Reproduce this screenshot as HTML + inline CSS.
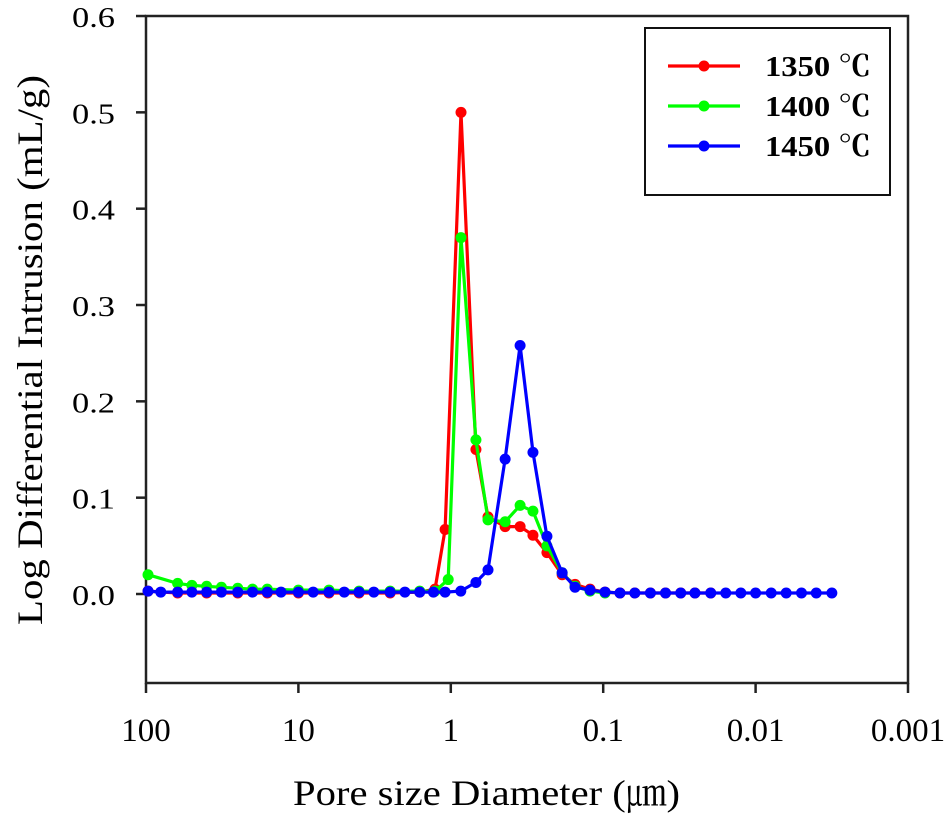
<!DOCTYPE html>
<html><head><meta charset="utf-8"><style>
body{margin:0;background:#fff;}
svg{display:block;font-family:"Liberation Serif","Noto Serif CJK SC",serif;}
</style></head><body>
<svg id="chart" width="947" height="814">
<g id="axes"></g><g id="series"></g><g id="legend"></g>
</svg>
<script>
const xTicks=[100,10,1,0.1,0.01,0.001];
const xTickLabels=["100","10","1","0.1","0.01","0.001"];
const yTicks=[0,0.1,0.2,0.3,0.4,0.5,0.6];
const yTickLabels=["0.0","0.1","0.2","0.3","0.4","0.5","0.6"];
const seriesNames=["1350 ℃","1400 ℃","1450 ℃"];
const seriesColors=["#ff0000","#00ff00","#0000ff"];
const d1350=[97,62,40,25,16,10,6.3,4,2.5,1.6,1.27,1.09,0.857,0.684,0.57,0.44,0.351,0.289,0.234,0.186,0.153,0.122,0.0973,0.0776,0.062,0.049,0.039,0.031,0.025,0.0197];
const v1350=[0.003,0.001,0.001,0.001,0.001,0.001,0.001,0.001,0.001,0.002,0.005,0.067,0.5,0.15,0.08,0.07,0.07,0.061,0.043,0.02,0.01,0.005,0.002,0.001,0.001,0.001,0.001,0.001,0.001,0.001];
const d1400=[97,62,50,40,32,25,20,16,10,6.3,4,2.5,1.6,1.27,1.04,0.857,0.684,0.57,0.44,0.351,0.289,0.234,0.186,0.153,0.122,0.0973];
const v1400=[0.02,0.011,0.009,0.008,0.007,0.006,0.005,0.005,0.004,0.004,0.003,0.003,0.003,0.003,0.015,0.37,0.16,0.077,0.075,0.092,0.086,0.05,0.022,0.008,0.003,0.001];
const d1450=[97,80,62,50,40,32,25,20,16,13,10,8,6.3,5,4,3.2,2.5,2,1.6,1.3,1.09,0.86,0.684,0.57,0.44,0.351,0.289,0.234,0.186,0.153,0.122,0.0973,0.0776,0.062,0.049,0.039,0.031,0.025,0.0197,0.0157,0.0125,0.01,0.0079,0.0063,0.005,0.004,0.00316];
const v1450=[0.003,0.002,0.002,0.002,0.002,0.002,0.002,0.002,0.002,0.002,0.002,0.002,0.002,0.002,0.002,0.002,0.002,0.002,0.002,0.002,0.002,0.003,0.012,0.025,0.14,0.258,0.147,0.06,0.022,0.007,0.004,0.002,0.001,0.001,0.001,0.001,0.001,0.001,0.001,0.001,0.001,0.001,0.001,0.001,0.001,0.001,0.001];
const NS="http://www.w3.org/2000/svg";
const L=146,R=908,T=16,B=683;
function xs(d){return L+(2-Math.log10(d))*(R-L)/5;}
function ys(v){return 594-v*963.3;}
function mk(tag,attrs,parent){const e=document.createElementNS(NS,tag);for(const k in attrs)e.setAttribute(k,attrs[k]);parent.appendChild(e);return e;}
const axes=document.getElementById('axes');
const frame=mk('rect',{x:L,y:T,width:R-L,height:B-T,fill:'none',stroke:'#222','stroke-width':2.5},axes);


yTicks.forEach((v,i)=>{
  const t=mk('line',{x1:L-10,x2:L,y1:ys(v),y2:ys(v),stroke:'#222','stroke-width':2.5},axes);
  
  
  const tx=mk('text',{x:72,y:ys(v)+11,'font-size':29,textLength:43,lengthAdjust:'spacingAndGlyphs'},axes);
  tx.textContent=yTickLabels[i];
  
  
});
xTicks.forEach((d,i)=>{
  const t=mk('line',{x1:xs(d),x2:xs(d),y1:B,y2:B+10,stroke:'#222','stroke-width':2.5},axes);
  
  
  const tx=mk('text',{x:xs(d),y:741,'text-anchor':'middle','font-size':33},axes);
  tx.textContent=xTickLabels[i];
  
  
});
const xt=mk('text',{x:293,y:805,'font-size':36,textLength:387,lengthAdjust:'spacingAndGlyphs'},axes);
xt.textContent="Pore size Diameter (㎛)";


const yt=mk('text',{x:0,y:0,'font-size':36,textLength:550,lengthAdjust:'spacingAndGlyphs',transform:'translate(42,625) rotate(-90)'},axes);
yt.textContent="Log Differential Intrusion (mL/g)";


const sg=document.getElementById('series');
[[d1350,v1350],[d1400,v1400],[d1450,v1450]].forEach((s,k)=>{
  const g=mk('g',{},sg);
  
  
  const pts=s[0].map((d,i)=>xs(d).toFixed(1)+','+ys(s[1][i]).toFixed(1)).join(' ');
  const pl=mk('polyline',{points:pts,fill:'none',stroke:seriesColors[k],'stroke-width':3.2},g);
  
  
  s[0].forEach((d,i)=>{
    const c=mk('circle',{cx:xs(d),cy:ys(s[1][i]),r:5.5,fill:seriesColors[k]},g);
    
    
  });
});
const lg=document.getElementById('legend');
const box=mk('rect',{x:645,y:28,width:245,height:167,fill:'#fff',stroke:'#111','stroke-width':2},lg);


seriesNames.forEach((n,k)=>{
  const y=66+k*40;
  const ln=mk('line',{x1:668,x2:740,y1:y,y2:y,stroke:seriesColors[k],'stroke-width':3.2},lg);
  
  
  const c=mk('circle',{cx:704,cy:y,r:5.5,fill:seriesColors[k]},lg);
  
  
  const t=mk('text',{x:765,y:y+10,'font-size':29,'font-weight':'bold',textLength:106,lengthAdjust:'spacingAndGlyphs'},lg);
  t.textContent=n;
  
  
});
</script>
</body></html>
